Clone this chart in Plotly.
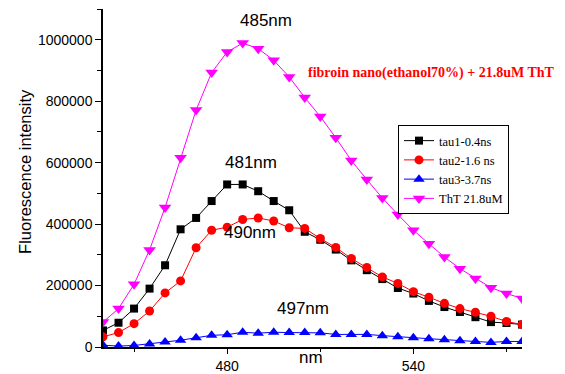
import plotly.graph_objects as go

wavelength = [440, 445, 450, 455, 460, 465, 470, 475, 480, 485, 490, 495, 500, 505,
              510, 515, 520, 525, 530, 535, 540, 545, 550, 555, 560, 565, 570, 575]

tau1 = [54000, 79000, 125000, 190000, 266000, 383000, 420000, 475000, 529000, 529000,
        507000, 475000, 445000, 375000, 349000, 317000, 282000, 250000, 221000, 192000,
        174000, 150000, 130000, 114000, 97000, 81000, 78000, 73000]

tau2 = [33000, 47000, 76000, 117000, 176000, 215000, 323000, 380000, 390000, 415000,
        420000, 410000, 388000, 386000, 353000, 324000, 288000, 259000, 228000, 207000,
        180000, 162000, 142000, 125000, 113000, 100000, 83000, 73000]

tau3 = [6000, 3000, 5000, 10000, 16000, 22000, 30000, 38000, 40000, 48000,
        45000, 48000, 47000, 47000, 46000, 41000, 41000, 41000, 37000, 33000,
        30000, 27000, 24000, 20000, 18000, 15000, 18000, 18000]

tht = [81000, 125000, 204000, 316000, 454000, 616000, 771000, 893000, 960000, 989000,
       971000, 933000, 879000, 812000, 750000, 681000, 607000, 545000, 485000, 431000,
       380000, 336000, 293000, 255000, 223000, 193000, 174000, 158000]

series_names = ["tau1-0.4ns", "tau2-1.6 ns", "tau3-3.7ns", "ThT 21.8uM"]
series_values = [tau1, tau2, tau3, tht]
colors = ["#000000", "#FF0000", "#0000FF", "#FF00FF"]
symbols = ["square", "circle", "triangle-up", "triangle-down"]
sizes = [8, 9, 10, 11]

peak_labels = ["485nm", "481nm", "490nm", "497nm"]
peak_x = [492.4, 487.8, 487.5, 504.3]
peak_y = [1063000, 602000, 374000, 126000]

fig = go.Figure()
for name, vals, col, sym, sz in zip(series_names, series_values, colors, symbols, sizes):
    fig.add_trace(go.Scatter(
        x=wavelength, y=vals, name=name, mode="lines+markers",
        line=dict(color=col, width=1),
        marker=dict(symbol=sym, size=sz, color=col),
    ))

axis_font = dict(family="Liberation Sans, Arial, sans-serif", size=14, color="#000000")

annotations = []
for t, x, y in zip(peak_labels, peak_x, peak_y):
    annotations.append(dict(x=x, y=y, xref="x", yref="y", text=t, showarrow=False,
                            font=dict(family="Liberation Sans, Arial, sans-serif", size=17, color="#000000"),
                            xanchor="center", yanchor="middle"))

annotations.append(dict(x=0.783, y=0.811, xref="paper", yref="paper",
                        text="<b>fibroin nano(ethanol70%) + 21.8uM ThT</b>", showarrow=False,
                        font=dict(family="Liberation Serif, Times New Roman, serif", size=14, color="#FF0000"),
                        xanchor="center", yanchor="middle"))
annotations.append(dict(x=(310.5 - 103) / 419, y=-0.03, xref="paper", yref="paper",
                        text="nm", showarrow=False,
                        font=dict(family="Liberation Sans, Arial, sans-serif", size=17, color="#000000"),
                        xanchor="center", yanchor="middle"))
annotations.append(dict(x=(25 - 103) / 419, y=0.518, xref="paper", yref="paper",
                        text="Fluorescence intensity", showarrow=False, textangle=-90,
                        font=dict(family="Liberation Sans, Arial, sans-serif", size=16.5, color="#000000"),
                        xanchor="center", yanchor="middle"))

fig.update_layout(
    width=565, height=374, autosize=False,
    margin=dict(l=103, r=43, t=9, b=27, pad=0, autoexpand=False),
    plot_bgcolor="white", paper_bgcolor="white",
    showlegend=True,
    legend=dict(x=(398 - 103) / 419, y=(347 - 125) / 338, xanchor="left", yanchor="top",
                bgcolor="white", bordercolor="#000000", borderwidth=1,
                font=dict(family="Liberation Serif, Times New Roman, serif", size=12.5, color="#000000"),
                tracegroupgap=0, itemwidth=30),
    annotations=annotations,
    xaxis=dict(range=[440, 575], showgrid=False, zeroline=False,
               showline=True, linecolor="#000000", linewidth=1.5,
               ticks="outside", ticklen=5, tickwidth=1.2, tickcolor="#000000",
               tick0=480, dtick=60, tickfont=axis_font, ticklabelstandoff=0,
               minor=dict(ticks="outside", ticklen=3, dtick=30, tickcolor="#000000", tickwidth=1.2)),
    yaxis=dict(range=[0, 1100000], showgrid=False, zeroline=False,
               showline=True, linecolor="#000000", linewidth=1.5,
               ticks="outside", ticklen=6, tickwidth=1.2, tickcolor="#000000",
               tick0=0, dtick=200000, tickformat="d", tickfont=axis_font,
               minor=dict(ticks="outside", ticklen=4, dtick=100000, tickcolor="#000000", tickwidth=1.2)),
)

fig.write_html("out.html", config={"displayModeBar": False},
               post_script="document.body.style.margin='0';document.body.style.overflow='hidden';")
